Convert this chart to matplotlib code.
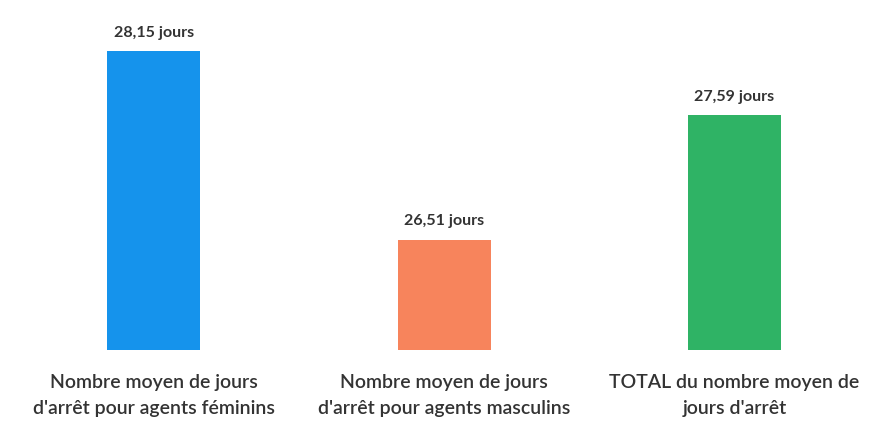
import matplotlib.pyplot as plt

# Nombre moyen de jours d'arrêt
categories = ["Nombre moyen de jours\nd'arrêt pour agents féminins",
              "Nombre moyen de jours\nd'arrêt pour agents masculins",
              "TOTAL du nombre moyen de\njours d'arrêt"]
values = [28.15, 26.51, 27.59]
value_labels = ["28,15 jours", "26,51 jours", "27,59 jours"]
colors = ["#1593ec", "#f7845c", "#2fb365"]

plt.rcParams['font.family'] = ['Lato', 'DejaVu Sans']

fig = plt.figure(figsize=(8.71, 4.29), dpi=100)
ax = fig.add_axes([0, 0.184, 1, 0.816])

x = range(len(values))
base = 25.55
bars = ax.bar(x, [v - base for v in values], width=0.32, bottom=base, color=colors)

for i, v in enumerate(values):
    ax.text(i, v + 0.1, value_labels[i], ha='center', va='bottom',
            fontsize=11.5, fontweight='bold', color='#333333')

ax.set_xlim(-0.53, 2.47)
ax.set_ylim(base, base + 350 / 115)
ax.set_xticks(list(x))
ax.set_xticklabels(categories, fontsize=14, fontweight='semibold', color='#333333',
                   linespacing=1.7)
ax.tick_params(axis='x', length=0, pad=17)
ax.set_yticks([])
for s in ax.spines.values():
    s.set_visible(False)

fig.savefig('out.png', dpi=100)
